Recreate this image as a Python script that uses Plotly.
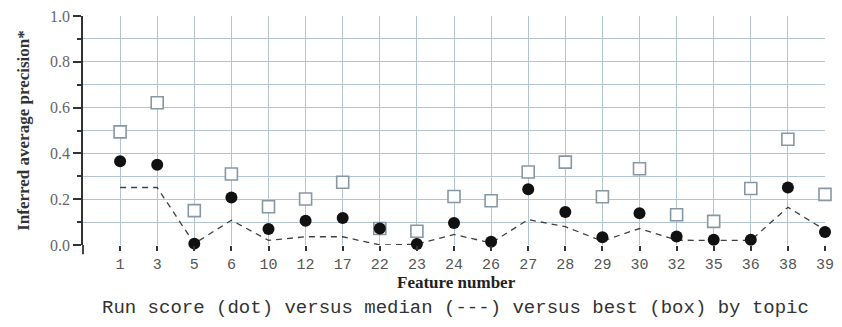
import plotly.graph_objects as go

# Topics (feature numbers) along the x axis
features = ["1", "3", "5", "6", "10", "12", "17", "22", "23", "24",
            "26", "27", "28", "29", "30", "32", "35", "36", "38", "39"]

# Inferred average precision per topic
run_score = [0.366, 0.350, 0.006, 0.207, 0.070, 0.106, 0.118, 0.072, 0.004, 0.096,
             0.014, 0.243, 0.144, 0.034, 0.139, 0.037, 0.023, 0.023, 0.251, 0.057]
median = [0.251, 0.251, 0.006, 0.108, 0.020, 0.036, 0.036, 0.000, 0.003, 0.046,
          0.009, 0.111, 0.080, 0.017, 0.072, 0.021, 0.020, 0.020, 0.165, 0.066]
best = [0.494, 0.621, 0.150, 0.310, 0.167, 0.201, 0.274, 0.072, 0.060, 0.212,
        0.193, 0.319, 0.362, 0.211, 0.333, 0.132, 0.103, 0.247, 0.462, 0.221]

y_ticks = [0.0, 0.2, 0.4, 0.6, 0.8, 1.0]

GRID = "#b3c5d3"
SERIF = "Liberation Serif"
MONO = "Liberation Mono"

fig = go.Figure()

fig.add_trace(go.Scatter(
    x=features, y=median, mode="lines",
    line=dict(color="#404040", width=1.3, dash="6px,5px"),
    cliponaxis=False, showlegend=False,
))
fig.add_trace(go.Scatter(
    x=features, y=best, mode="markers",
    marker=dict(symbol="square", size=12, color="white",
                line=dict(color="#8797a4", width=1.6)),
    cliponaxis=False, showlegend=False,
))
fig.add_trace(go.Scatter(
    x=features, y=run_score, mode="markers",
    marker=dict(symbol="circle", size=12, color="#111111",
                line=dict(width=0)),
    cliponaxis=False, showlegend=False,
))

fig.update_layout(
    width=842, height=327,
    margin=dict(l=83, r=8, t=12, b=82),
    paper_bgcolor="white", plot_bgcolor="white",
    xaxis=dict(
        type="category", categoryorder="array", categoryarray=features,
        range=[-1, len(features) - 1],
        showgrid=True, gridcolor=GRID, gridwidth=1.2,
        showline=False, zeroline=False,
        ticks="outside", ticklen=5, tickwidth=1.5, tickcolor="#333333",
        tickfont=dict(family=MONO, size=15, color="#555555"),
    ),
    yaxis=dict(
        range=[0, 1.0],
        tickvals=y_ticks, ticktext=[f"{v:.1f}" for v in y_ticks],
        showgrid=True, gridcolor=GRID, gridwidth=1.2,
        minor=dict(dtick=0.1, showgrid=True, gridcolor=GRID, gridwidth=1.2,
                   ticks="outside", ticklen=4, tickwidth=1.5, tickcolor="#333333"),
        showline=True, linecolor="#333333", linewidth=1.8,
        zeroline=False,
        ticks="outside", ticklen=8, tickwidth=1.5, tickcolor="#333333",
        tickfont=dict(family=SERIF, size=16, color="#666666"),
        title=dict(text="<b>Inferred average precision*</b>",
                   font=dict(family=SERIF, size=17, color="#333333"),
                   standoff=16),
    ),
    shapes=[
        # spine continues a little below the zero line
        dict(type="line", xref="paper", yref="paper", x0=0, x1=0, y0=0, y1=-0.04,
             line=dict(color="#333333", width=1.8)),
    ],
    annotations=[
        dict(text="<b>Feature number</b>", xref="paper", yref="paper",
             x=0.503, y=-0.165, xanchor="center", yanchor="middle", showarrow=False,
             font=dict(family=SERIF, size=17, color="#222222")),
        dict(text="Run score (dot) versus median (---) versus best (box) by topic",
             xref="paper", yref="paper", x=0.502, y=-0.275,
             xanchor="center", yanchor="middle", showarrow=False,
             font=dict(family=MONO, size=19, color="#333333")),
    ],
)

fig.write_html("out.html")
